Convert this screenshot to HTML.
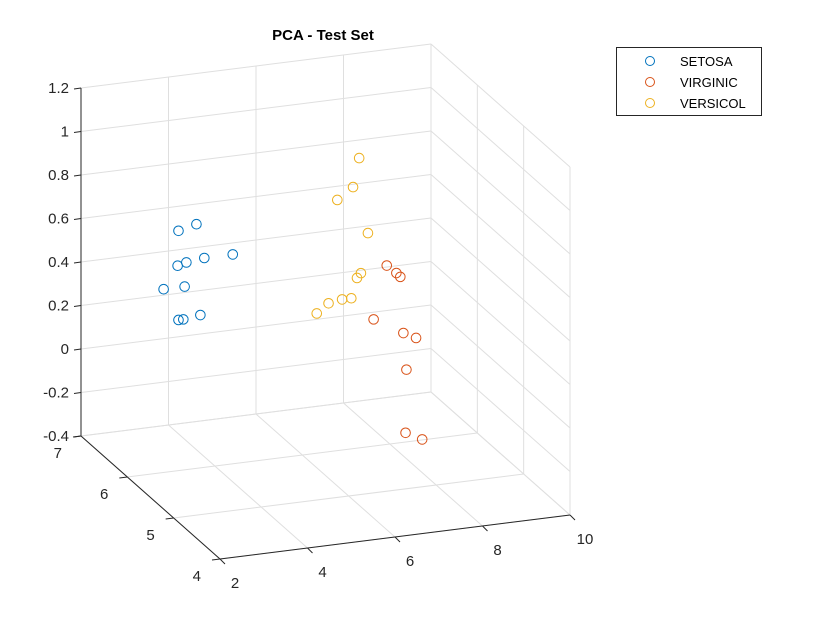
<!DOCTYPE html>
<html><head><meta charset="utf-8"><style>
body{margin:0;background:#fff;}
svg{font-family:"Liberation Sans",Arial,sans-serif;}
</style></head><body>
<svg id="chart" width="821" height="629" viewBox="0 0 821 629">
<rect width="821" height="629" fill="#fff"/>
<text x="323" y="40" text-anchor="middle" font-size="15" font-weight="bold" fill="#000">PCA - Test Set</text>
<g id="grid"></g><g id="axes"></g><g id="pts"></g>
<g>
<rect x="616.5" y="47.5" width="145" height="68" fill="#fff" stroke="#262626" stroke-width="1"/>
<circle cx="650" cy="61" r="4.5" fill="none" stroke="#0072BD"/>
<text x="680" y="66" font-size="13" fill="#000">SETOSA</text>
<circle cx="650" cy="82" r="4.5" fill="none" stroke="#D95319"/>
<text x="680" y="87" font-size="13" fill="#000">VIRGINIC</text>
<circle cx="650" cy="103" r="4.5" fill="none" stroke="#EDB120"/>
<text x="680" y="108" font-size="13" fill="#000">VERSICOL</text>
</g>
</svg>
<script>
const xTicks=[2,4,6,8,10];
const yTicks=[4,5,6,7];
const zTicks=[-0.4,-0.2,0,0.2,0.4,0.6,0.8,1,1.2];
const zTickLabels=["-0.4","-0.2","0","0.2","0.4","0.6","0.8","1","1.2"];
const setosaX=[2.64,3.05,2.82,2.62,3.23,3.88,2.30,2.78,2.64,2.75,3.14];
const setosaY=[5.5,5.5,5.5,5.5,5.5,5.5,5.5,5.5,5.5,5.5,5.5];
const setosaZ=[0.81,0.83,0.66,0.65,0.67,0.67,0.55,0.55,0.40,0.40,0.41];
const virginicX=[7.40,7.62,7.71,7.10,7.78,8.07,7.85,7.83,8.21];
const virginicY=[5.5,5.5,5.5,5.5,5.5,5.5,5.5,5.5,5.5];
const virginicZ=[0.53,0.49,0.47,0.29,0.21,0.18,0.04,-0.25,-0.29];
const versicolX=[6.77,6.63,6.27,6.97,6.81,6.72,6.59,6.38,6.07,5.80];
const versicolY=[5.5,5.5,5.5,5.5,5.5,5.5,5.5,5.5,5.5,5.5];
const versicolZ=[1.04,0.91,0.86,0.69,0.51,0.49,0.40,0.40,0.39,0.35];

const NS="http://www.w3.org/2000/svg";
const O=[81,436],XV=[350,-44],YV=[139,123],ZV=[0,-348];
const xMin=2,xMax=10,yMin=4,yMax=7,zMin=-0.4,zMax=1.2;
function P(x,y,z){
  const a=(x-xMin)/(xMax-xMin),b=(yMax-y)/(yMax-yMin),c=(z-zMin)/(zMax-zMin);
  return [O[0]+a*XV[0]+b*YV[0]+c*ZV[0], O[1]+a*XV[1]+b*YV[1]+c*ZV[1]];
}
function line(g,p,q,col,name){
  const l=document.createElementNS(NS,'line');
  l.setAttribute('x1',p[0]);l.setAttribute('y1',p[1]);l.setAttribute('x2',q[0]);l.setAttribute('y2',q[1]);
  l.setAttribute('stroke',col);l.setAttribute('stroke-width',1);
  
  
  g.appendChild(l);
}
function text(g,x,y,s,anchor,name){
  const t=document.createElementNS(NS,'text');
  t.setAttribute('x',x);t.setAttribute('y',y);t.setAttribute('text-anchor',anchor);
  t.setAttribute('font-size',15);t.setAttribute('fill','#262626');t.textContent=s;
  
  
  g.appendChild(t);
}
const grid=document.getElementById('grid'),axes=document.getElementById('axes'),pts=document.getElementById('pts');
const gc='#dfdfdf';
// back wall y=yMax
xTicks.forEach(x=>line(grid,P(x,yMax,zMin),P(x,yMax,zMax),gc,'grid-line-x'));
zTicks.forEach(z=>line(grid,P(xMin,yMax,z),P(xMax,yMax,z),gc,'grid-line-z'));
// right wall x=xMax
yTicks.forEach(y=>line(grid,P(xMax,y,zMin),P(xMax,y,zMax),gc,'grid-line-y'));
zTicks.forEach(z=>line(grid,P(xMax,yMin,z),P(xMax,yMax,z),gc,'grid-line-z'));
// floor
xTicks.forEach(x=>line(grid,P(x,yMin,zMin),P(x,yMax,zMin),gc,'grid-line-x'));
yTicks.forEach(y=>line(grid,P(xMin,y,zMin),P(xMax,y,zMin),gc,'grid-line-y'));
// axes
const ac='#262626';
line(axes,P(xMin,yMax,zMin),P(xMin,yMax,zMax),ac,'z-axis');
line(axes,P(xMin,yMax,zMin),P(xMin,yMin,zMin),ac,'y-axis');
line(axes,P(xMin,yMin,zMin),P(xMax,yMin,zMin),ac,'x-axis');
zTicks.forEach((z,i)=>{const p=P(xMin,yMax,z);line(axes,p,[p[0]-7,p[1]+1],ac,'z-tick');text(axes,p[0]-12,p[1]+5,zTickLabels[i],'end','z-tick-label');});
yTicks.forEach(y=>{const p=P(xMin,y,zMin);line(axes,p,[p[0]-8,p[1]+1],ac,'y-tick');text(axes,p[0]-19,p[1]+22,String(y),'end','y-tick-label');});
xTicks.forEach(x=>{const p=P(x,yMin,zMin);line(axes,p,[p[0]+5,p[1]+5],ac,'x-tick');text(axes,p[0]+15,p[1]+29,String(x),'middle','x-tick-label');});
function series(X,Y,Z,col,name){
  X.forEach((x,i)=>{const p=P(x,Y[i],Z[i]);
    const c=document.createElementNS(NS,'circle');
    c.setAttribute('cx',p[0]);c.setAttribute('cy',p[1]);c.setAttribute('r',4.8);
    c.setAttribute('fill','none');c.setAttribute('stroke',col);c.setAttribute('stroke-width',1);
    
    
    pts.appendChild(c);});
}
series(setosaX,setosaY,setosaZ,'#0072BD','setosa-point');
series(virginicX,virginicY,virginicZ,'#D95319','virginic-point');
series(versicolX,versicolY,versicolZ,'#EDB120','versicol-point');
</script>
</body></html>
